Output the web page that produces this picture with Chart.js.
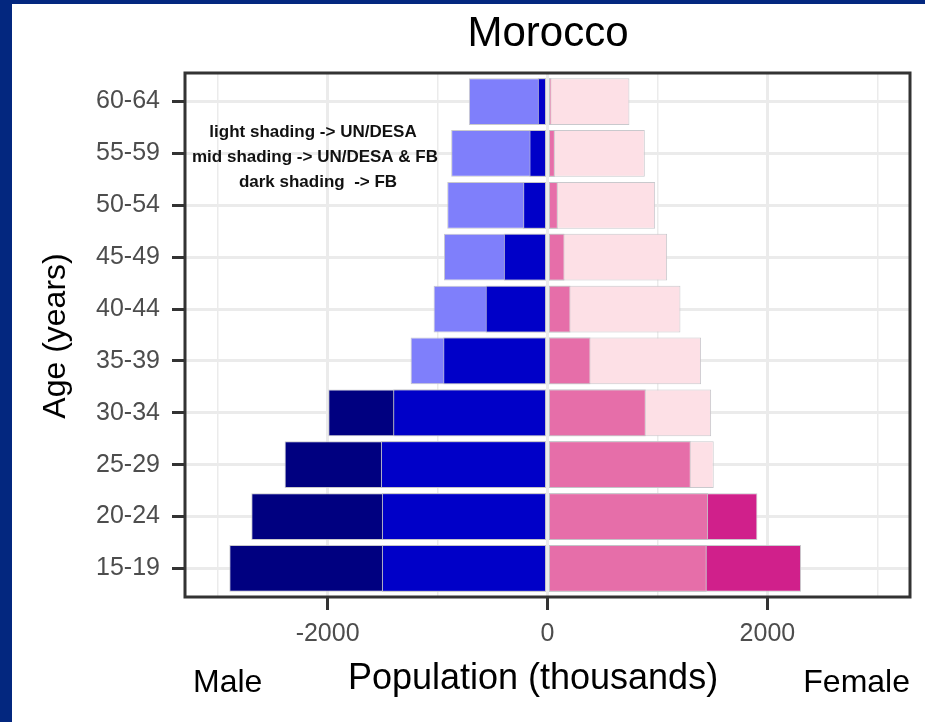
<!DOCTYPE html>
<html>
<head>
<meta charset="utf-8">
<script src="https://cdn.jsdelivr.net/npm/chart.js@4.4.0/dist/chart.umd.min.js"></script>
<style>
  html, body { margin: 0; padding: 0; background: #03277f; }
  canvas { display: block; }
</style>
</head>
<body>
<canvas id="pyramid" width="925" height="722"></canvas>
<script>
// Morocco population pyramid: UN/DESA vs Facebook (FB) estimates, thousands

const ageGroups = ['15-19', '20-24', '25-29', '30-34', '35-39', '40-44', '45-49', '50-54', '55-59', '60-64'];
const maleUN = [1506, 1506, 1515, 1403, 1245, 1036, 942, 912, 876, 715];
const maleFB = [2894, 2694, 2391, 1994, 948, 562, 397, 221, 164, 88];
const femaleUN = [1448, 1461, 1512, 1488, 1397, 1209, 1088, 979, 885, 745];
const femaleFB = [2306, 1909, 1303, 894, 391, 209, 155, 94, 67, 36];
const xTicks = [-3000, -2000, -1000, 0, 1000, 2000, 3000];

const FONT = "'Liberation Sans', Arial, sans-serif";

function toPoints(values, sign) {
  return values.map((v, i) => ({ x: sign * v, y: i }));
}

function overlap(a, b) {
  return a.map((v, i) => Math.min(v, b[i]));
}

function barSet(label, data, color, order) {
  return {
    label: label,
    data: data,
    backgroundColor: color,
    borderColor: 'rgba(195,195,200,0.9)',
    borderWidth: 1,
    borderSkipped: false,
    grouped: false,
    categoryPercentage: 1,
    barPercentage: 0.9,
    order: order,
  };
}

// 背景、边框和注释文字
const decorations = {
  id: 'decorations',
  beforeDraw(chart) {
    const ctx = chart.ctx;
    ctx.save();
    ctx.fillStyle = '#ffffff';
    ctx.fillRect(12, 4, chart.width - 12, chart.height - 4);
    ctx.restore();
  },
  afterDraw(chart) {
    const ctx = chart.ctx;
    const area = chart.chartArea;
    ctx.save();
    ctx.strokeStyle = '#333333';
    ctx.lineWidth = 3;
    ctx.strokeRect(area.left, area.top, area.right - area.left, area.bottom - area.top);

    ctx.fillStyle = '#000000';
    ctx.textAlign = 'center';
    ctx.textBaseline = 'alphabetic';
    ctx.font = '42px ' + FONT;
    ctx.fillText('Morocco', 548, 46);

    ctx.font = '36px ' + FONT;
    ctx.fillText('Population (thousands)', 533, 689);

    ctx.font = '32px ' + FONT;
    ctx.textAlign = 'left';
    ctx.fillText('Male', 193, 692);
    ctx.textAlign = 'right';
    ctx.fillText('Female', 910, 692);

    ctx.font = 'bold 17px ' + FONT;
    ctx.textAlign = 'center';
    ctx.fillStyle = '#111111';
    ctx.fillText('light shading -> UN/DESA', 313, 137);
    ctx.fillText('mid shading -> UN/DESA & FB', 315, 162);
    ctx.fillText('dark shading  -> FB', 318, 187);

    ctx.fillStyle = '#000000';
    ctx.font = '32px ' + FONT;
    ctx.translate(65, 336);
    ctx.rotate(-Math.PI / 2);
    ctx.fillText('Age (years)', 0, 0);
    ctx.restore();
  },
};

new Chart(document.getElementById('pyramid'), {
  type: 'bar',
  data: {
    datasets: [
      barSet('Male UN/DESA & FB', toPoints(overlap(maleUN, maleFB), -1), '#0000c8', 0),
      barSet('Female UN/DESA & FB', toPoints(overlap(femaleUN, femaleFB), 1), '#e66ea9', 0),
      barSet('Male UN/DESA', toPoints(maleUN, -1), '#7f7ffb', 1),
      barSet('Male FB', toPoints(maleFB, -1), '#000080', 1),
      barSet('Female UN/DESA', toPoints(femaleUN, 1), '#fde0e6', 1),
      barSet('Female FB', toPoints(femaleFB, 1), '#d0208b', 1),
    ],
  },
  options: {
    indexAxis: 'y',
    responsive: false,
    animation: false,
    devicePixelRatio: 1,
    layout: { padding: { top: 73, right: 15, left: 0, bottom: 0 } },
    plugins: {
      legend: { display: false },
      tooltip: { enabled: false },
      title: { display: false },
    },
    scales: {
      x: {
        type: 'linear',
        min: -3297,
        max: 3297,
        afterBuildTicks: (scale) => {
          scale.ticks = xTicks.map((v) => ({ value: v }));
        },
        afterFit: (scale) => {
          scale.height = 125;
        },
        border: { display: false },
        grid: {
          color: '#ebebeb',
          lineWidth: (ctx) => (ctx.tick && ctx.tick.value % 2000 === 0 ? 3 : 1.5),
          tickColor: (ctx) => (ctx.tick && ctx.tick.value % 2000 === 0 ? '#333333' : 'rgba(0,0,0,0)'),
          tickWidth: 3,
          tickLength: 13,
        },
        ticks: {
          autoSkip: false,
          maxRotation: 0,
          padding: 9,
          color: '#4d4d4d',
          font: { family: FONT, size: 25 },
          callback: (v) => (v % 2000 === 0 ? String(v) : ''),
        },
      },
      y: {
        type: 'linear',
        min: -0.55,
        max: 9.55,
        offset: false,
        afterBuildTicks: (scale) => {
          scale.ticks = ageGroups.map((_, i) => ({ value: i }));
        },
        afterFit: (scale) => {
          scale.width = 185;
        },
        border: { display: false },
        grid: {
          offset: false,
          color: '#ebebeb',
          lineWidth: 3,
          tickColor: '#333333',
          tickWidth: 3,
          tickLength: 13,
        },
        ticks: {
          autoSkip: false,
          padding: 12,
          color: '#4d4d4d',
          font: { family: FONT, size: 25 },
          callback: (v) => ageGroups[v],
        },
      },
    },
  },
  plugins: [decorations],
});
</script>
</body>
</html>
